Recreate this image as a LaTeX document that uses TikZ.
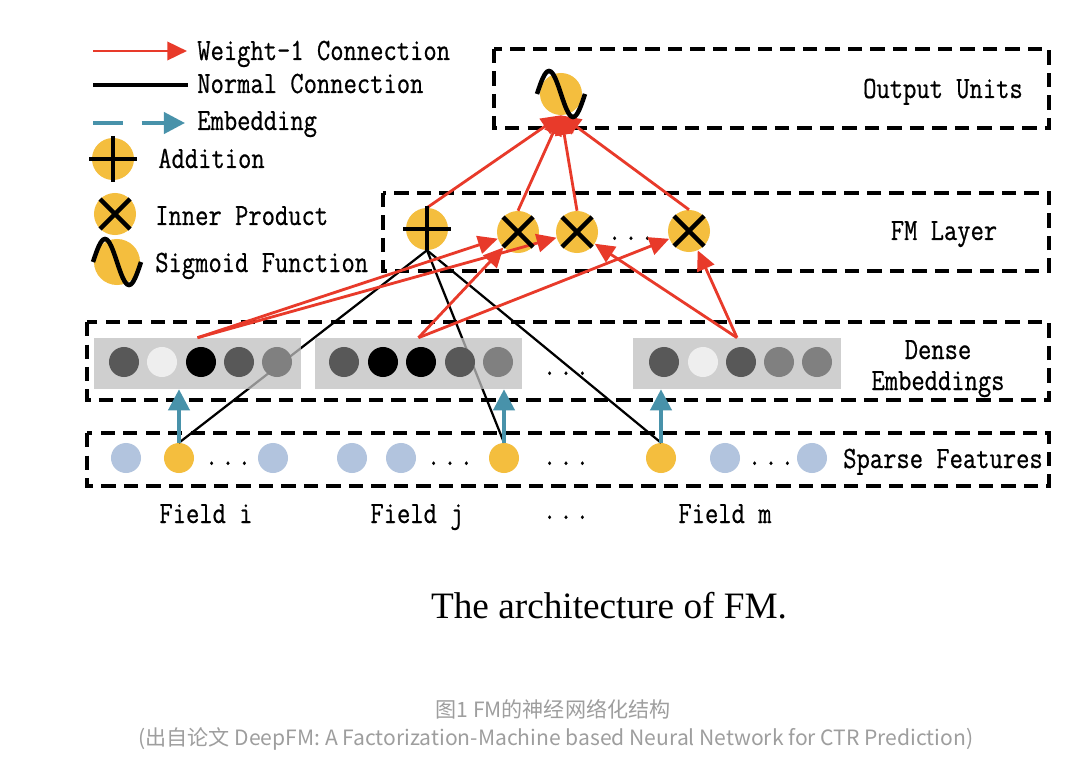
\documentclass[tikz,border=0pt]{standalone}
\usepackage{fontspec}
\setmainfont{Liberation Serif}
\newfontfamily\fmfont{Latin Modern Mono}[FakeStretch=0.835,FakeBold=0.6]
\newfontfamily\cjkfont{Noto Sans CJK SC}
\usetikzlibrary{arrows.meta}
\definecolor{fmyellow}{RGB}{244,190,62}
\definecolor{fmblue}{RGB}{178,196,222}
\definecolor{fmteal}{RGB}{72,146,170}
\definecolor{fmred}{RGB}{232,58,42}
\definecolor{rectgray}{RGB}{192,192,192}
\definecolor{dgray}{RGB}{88,88,88}
\definecolor{mgray}{RGB}{128,128,128}
\definecolor{lgray}{RGB}{238,238,238}
\definecolor{capgray}{RGB}{158,158,158}
\newcommand{\fmdots}{.\kern2.2pt.\kern2.2pt.}

\begin{document}
\begin{tikzpicture}[x=0.025cm,y=-0.025cm,
	txt/.style={font=\fmfont\fontsize{22}{26}\selectfont,inner sep=0pt},
	layer/.style={draw,line width=2.6pt,dash pattern=on 10pt off 6pt},
	unit/.style={circle,fill=fmyellow,minimum size=1.05cm,inner sep=0pt},
	emb/.style={circle,minimum size=0.75cm,inner sep=0pt},
	dense/.style={fill=rectgray,fill opacity=0.75,minimum width=5.175cm,minimum height=1.275cm,inner sep=0pt},
	weight/.style={fmred,line width=2pt,-{Triangle[length=14pt,width=13pt]}},
	normal/.style={black,line width=1.6pt},
	embed/.style={fmteal,line width=2.8pt,-{Triangle[length=15pt,width=15pt]}},
	glyph/.style={black,line width=3.2pt}]
	\useasboundingbox[fill=white] (0,0) rectangle (1079,768);
	% legend
	\coordinate (wa) at (93,51); \coordinate (wb) at (187,51);
	\coordinate (na) at (93,85); \coordinate (nb) at (188,85);
	\coordinate (ea) at (93,123); \coordinate (eb) at (185,123);
	\draw[weight] (wa) -- (wb);
	\draw[normal,line width=2.2pt] (na) -- (nb);
	\draw[embed,dash pattern=on 21pt off 13.5pt] (ea) -- (eb);
	\node[txt,anchor=base west] (tw) at (197,60) {Weight-1 Connection};
	\node[txt,anchor=base west] (tn) at (197,93) {Normal Connection};
	\node[txt,anchor=base west] (te) at (197,130) {Embedding};
	\node[unit] (ladd) at (113,159) {};
	\node[unit] (lip) at (115,214) {};
	\node[unit,minimum size=1.15cm] (lsig) at (117,262) {};
	\node[txt,anchor=base west] (ta) at (158,168) {Addition};
	\node[txt,anchor=base west] (ti) at (155,225) {Inner Product};
	\node[txt,anchor=base west] (ts) at (155,272) {Sigmoid Function};
	% layers
	\draw[layer] (494,49) rectangle (1049,128);
	\draw[layer] (383,193) rectangle (1049,271);
	\draw[layer] (87,322) rectangle (1049,400);
	\draw[layer] (87,433) rectangle (1049,486);
	\node[txt,anchor=base] (lout) at (943,98) {Output Units};
	\node[txt,anchor=base] (lfm) at (944,240) {FM Layer};
	\node[txt,anchor=base] (lde1) at (938,359) {Dense};
	\node[txt,anchor=base] (lde2) at (938,390) {Embeddings};
	\node[txt,anchor=base] (lsp) at (943,468) {Sparse Features};
	\node[txt,anchor=base] (fi) at (206,523) {Field i};
	\node[txt,anchor=base] (fj) at (417,523) {Field j};
	\node[txt,anchor=base] (fd) at (566,519) {\fmdots};
	\node[txt,anchor=base] (fm) at (725,523) {Field m};
	% units
	\node[unit] (out) at (561,94) {};
	\node[unit] (add) at (427,229) {};
	\node[unit] (ip1) at (518,232) {};
	\node[unit] (ip2) at (577,232) {};
	\node[unit] (ip3) at (689,231) {};
	\node[txt,anchor=base] (ipd) at (631,240) {\fmdots};
	% sparse features
	\foreach \x in {126,273,352,401,725,812}
		\node[emb,fill=fmblue] (s\x) at (\x,458) {};
	\node[emb,fill=fmyellow] (f1) at (179,458) {};
	\node[emb,fill=fmyellow] (f2) at (504,458) {};
	\node[emb,fill=fmyellow] (f3) at (661,458) {};
	\node[txt,anchor=base] (sd1) at (228,465) {\fmdots};
	\node[txt,anchor=base] (sd2) at (450,465) {\fmdots};
	\node[txt,anchor=base] (sd3) at (566,465) {\fmdots};
	\node[txt,anchor=base] (sd4) at (771,465) {\fmdots};
	\draw[normal] (add.south) -- (f1.north);
	\draw[normal] (add.south) -- (f2.north);
	\draw[normal] (add.south) -- (f3.north);
	% dense embeddings
	\node[dense] (e1) at (197.5,363.5) {};
	\node[dense] (e2) at (418.5,363.5) {};
	\node[dense] (e3) at (737,363.5) {};
	\foreach \x/\c in {124/dgray,162/lgray,201/black,239/dgray,277/mgray,
		344/dgray,383/black,421/black,460/dgray,498/mgray,
		664/dgray,703/lgray,741/dgray,779/mgray,817/mgray}
		\node[emb,fill=\c] (d\x) at (\x,362) {};
	\node[txt,anchor=base] (dd) at (566,375) {\fmdots};
	\draw[embed] (f1.north) -- (f1 |- e1.south);
	\draw[embed] (f2.north) -- (f2 |- e2.south);
	\draw[embed] (f3.north) -- (f3 |- e3.south);
	\draw[weight] (e1.north) -- (ip1);
	\draw[weight] (e1.north) -- (ip2);
	\draw[weight] (e2.north) -- (ip1);
	\draw[weight] (e2.north) -- (ip3);
	\draw[weight] (e3.north) -- (ip2);
	\draw[weight] (e3.north) -- (ip3);
	\draw[weight] (add.north) -- (out.south);
	\draw[weight] (ip1.north) -- (out.south);
	\draw[weight] (ip2.north) -- (out.south);
	\draw[weight] (ip3.north) -- (out.south);
	% glyphs
	\foreach \n in {ladd,add}
		\draw[glyph] ([shift={(-24,0)}]\n.center) -- ([shift={(24,0)}]\n.center)
			([shift={(0,-23)}]\n.center) -- ([shift={(0,23)}]\n.center);
	\foreach \n in {lip,ip1,ip2,ip3}
		\draw[glyph] ([shift={(-15,-15)}]\n.center) -- ([shift={(15,15)}]\n.center)
			([shift={(15,-15)}]\n.center) -- ([shift={(-15,15)}]\n.center);
	\foreach \n in {lsig,out}
		\draw[glyph] ([shift={(-24,0)}]\n.center) sin ++(12,-23) cos ++(12,23) sin ++(12,23) cos ++(12,-23);
	% captions
	\node[font=\fontsize{26.5}{30}\selectfont,anchor=base,inner sep=0pt] (cap) at (609,618) {The architecture of FM.};
	\node[font=\cjkfont\fontsize{15}{17}\selectfont,text=capgray,anchor=base,inner sep=0pt] (cn1) at (553,717) {图1 FM的神经网络化结构};
	\node[font=\cjkfont\fontsize{15}{17}\selectfont,text=capgray,anchor=base,inner sep=0pt] (cn2) at (556,745) {(出自论文 DeepFM: A Factorization-Machine based Neural Network for CTR Prediction)};
\end{tikzpicture}
\end{document}
